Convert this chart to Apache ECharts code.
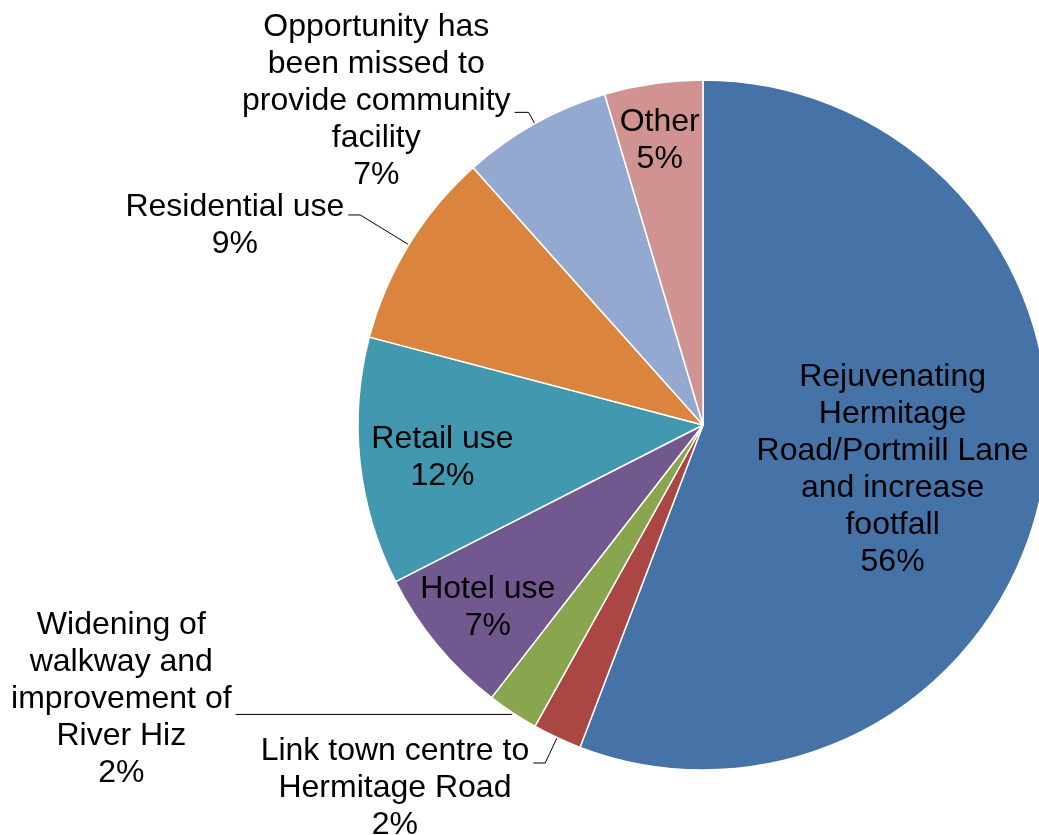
<!DOCTYPE html>
<html>
<head>
<meta charset="utf-8">
<script src="https://cdn.jsdelivr.net/npm/echarts@6/dist/echarts.min.js"></script>
<style>
  html, body { margin: 0; padding: 0; background: #fff; }
  #pie { width: 1039px; height: 835px; }
</style>
</head>
<body>
<div id="pie"></div>
<script>
// categories, clockwise from 12 o'clock
const categories = [
  'Rejuvenating\nHermitage\nRoad/Portmill Lane\nand increase\nfootfall',
  'Link town centre to\nHermitage Road',
  'Widening of\nwalkway and\nimprovement of\nRiver Hiz',
  'Hotel use',
  'Retail use',
  'Residential use',
  'Opportunity has\nbeen missed to\nprovide community\nfacility',
  'Other'
]
// share of responses (%)
const shares = [55.8, 2.3, 2.4, 7.0, 11.6, 9.3, 7.0, 4.6]

const colors = ['#4572A7', '#AA4643', '#89A54E', '#71588F', '#4198AF', '#DB843D', '#93A9CF', '#D19392']
const labelPos = ['inside', 'outside', 'outside', 'inside', 'inside', 'outside', 'outside', 'inside']
// leader line lengths for the outside labels
const line1 = [0, 28, 2, 0, 0, 57, 13, 0]
const line2 = [0, 12, 276, 0, 0, 12, 14, 0]
// empty space above / below the text (px) so the leader meets the right line
const padTop = [0, 50, 0, 0, 0, 21, 0, 0]
const padBottom = [0, 0, 30, 0, 0, 0, 22, 0]
// nudges for the inside labels
const labelShift = [[17, 13], null, null, [-80, 71], [-86, 14], null, null, [-18, -111]]

const font = '"Liberation Sans", Arial, sans-serif'

let rich = {
  c: {
    align: 'center',
    color: '#000',
    fontFamily: font,
    fontSize: 32,
    lineHeight: 37
  }
}
padTop.forEach((h, i) => { rich['t' + i] = {fontSize: 1, lineHeight: h} })
padBottom.forEach((h, i) => { rich['b' + i] = {fontSize: 1, lineHeight: h} })

let pieData = categories.map((name, i) => ({
  name: name,
  value: shares[i],
  itemStyle: {color: colors[i]},
  label: {position: labelPos[i]},
  labelLine: {length: line1[i], length2: line2[i]}
}))

let chart = echarts.init(document.getElementById('pie'))
chart.setOption({
  animation: false,
  backgroundColor: '#fff',
  series: [
    {
      type: 'pie',
      center: [703, 425],
      radius: 345,
      startAngle: 90,
      clockwise: true,
      avoidLabelOverlap: false,
      itemStyle: {
        borderColor: '#fff',
        borderWidth: 1.5
      },
      label: {
        color: '#000',
        fontFamily: font,
        fontSize: 32,
        lineHeight: 37,
        distanceToLabelLine: 4,
        formatter: function (p) {
          let i = p.dataIndex
          let lines = []
          if (padTop[i]) lines.push('{t' + i + '| }')
          p.name.split('\n').forEach(l => lines.push('{c|' + l + '}'))
          lines.push('{c|' + Math.round(p.percent) + '%}')
          if (padBottom[i]) lines.push('{b' + i + '| }')
          return lines.join('\n')
        },
        rich: rich
      },
      labelLine: {
        show: true,
        lineStyle: {color: '#000', width: 1}
      },
      labelLayout: function (params) {
        let s = labelShift[params.dataIndex]
        return s ? {dx: s[0], dy: s[1]} : {}
      },
      emphasis: {disabled: true},
      data: pieData
    }
  ]
})
</script>
</body>
</html>
